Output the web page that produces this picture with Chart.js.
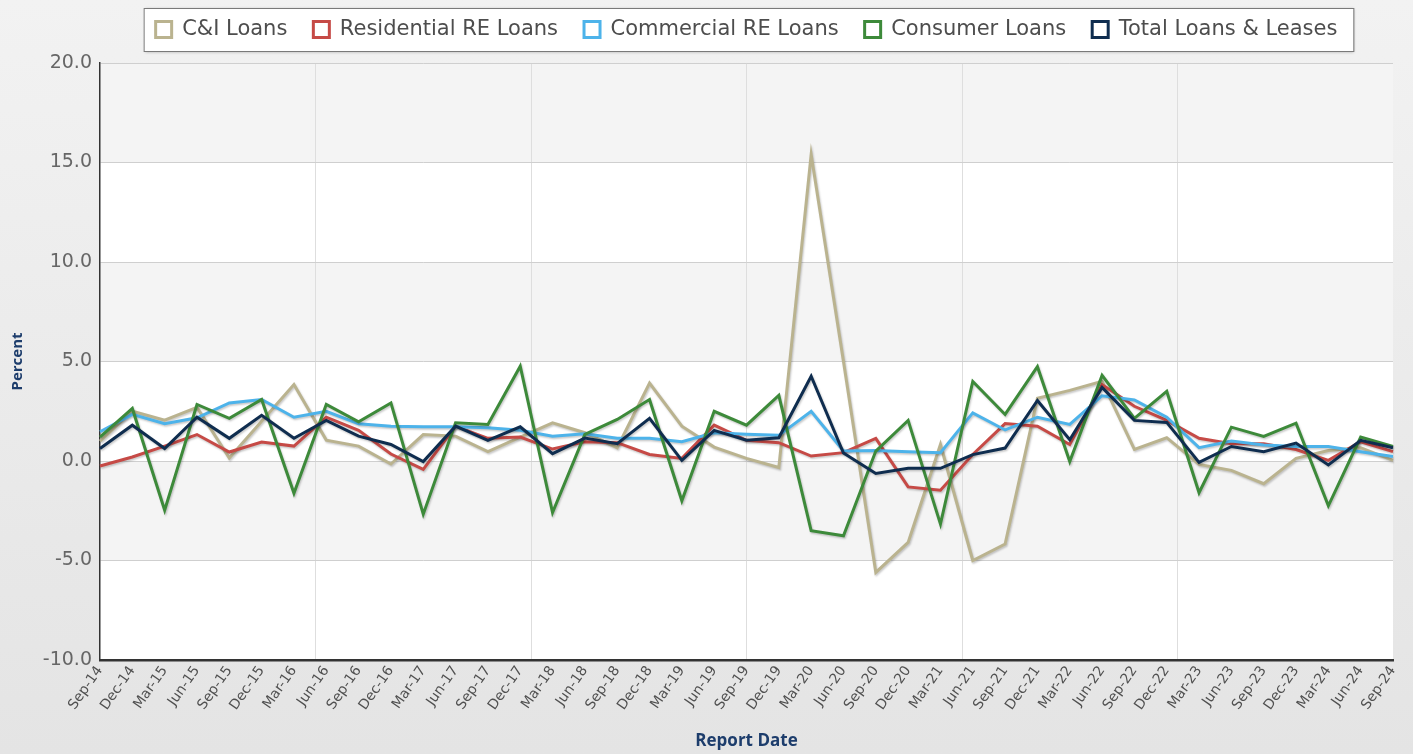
<!DOCTYPE html>
<html>
<head>
<meta charset="utf-8">
<script src="https://cdn.jsdelivr.net/npm/chart.js@4.4.1/dist/chart.umd.min.js"></script>
<style>
  html, body { margin: 0; padding: 0; }
  body { background: linear-gradient(#f2f2f2, #e4e4e4); }
  #wrap { position: relative; width: 1413px; height: 754px; }
</style>
</head>
<body>
<div id="wrap"><canvas id="loans"></canvas></div>
<script>
const quarters = [
  "Sep-14", "Dec-14", "Mar-15", "Jun-15", "Sep-15", "Dec-15", "Mar-16", "Jun-16", "Sep-16", "Dec-16",
  "Mar-17", "Jun-17", "Sep-17", "Dec-17", "Mar-18", "Jun-18", "Sep-18", "Dec-18", "Mar-19", "Jun-19",
  "Sep-19", "Dec-19", "Mar-20", "Jun-20", "Sep-20", "Dec-20", "Mar-21", "Jun-21", "Sep-21", "Dec-21",
  "Mar-22", "Jun-22", "Sep-22", "Dec-22", "Mar-23", "Jun-23", "Sep-23", "Dec-23", "Mar-24", "Jun-24",
  "Sep-24"
];

const ciLoans = [1.0, 2.5, 2.05, 2.7, 0.15, 2.0, 3.84, 1.05, 0.75, -0.15, 1.33, 1.25, 0.47, 1.2, 1.92, 1.42, 0.67, 3.92, 1.75, 0.7, 0.13, -0.33, 15.4, 5.0, -5.6, -4.09, 0.83, -5.0, -4.17, 3.15, 3.55, 4.0, 0.58, 1.17, -0.17, -0.47, -1.14, 0.13, 0.53, 0.67, 0.03];
const residentialLoans = [-0.25, 0.2, 0.75, 1.33, 0.45, 0.95, 0.75, 2.2, 1.54, 0.35, -0.42, 1.75, 1.14, 1.2, 0.6, 0.97, 0.92, 0.33, 0.13, 1.8, 1.04, 0.92, 0.25, 0.42, 1.14, -1.3, -1.47, 0.33, 1.88, 1.75, 0.83, 3.84, 2.75, 2.04, 1.14, 0.87, 0.87, 0.58, 0.03, 0.97, 0.47];
const commercialLoans = [1.47, 2.34, 1.87, 2.17, 2.92, 3.09, 2.2, 2.5, 1.87, 1.75, 1.72, 1.72, 1.67, 1.55, 1.25, 1.37, 1.14, 1.14, 0.97, 1.42, 1.34, 1.29, 2.5, 0.5, 0.53, 0.47, 0.42, 2.42, 1.56, 2.2, 1.84, 3.28, 3.07, 2.2, 0.67, 1.0, 0.8, 0.73, 0.73, 0.47, 0.23];
const consumerLoans = [1.2, 2.64, -2.47, 2.84, 2.14, 3.09, -1.62, 2.84, 1.97, 2.92, -2.67, 1.92, 1.84, 4.76, -2.59, 1.34, 2.09, 3.09, -2.0, 2.5, 1.8, 3.3, -3.5, -3.76, 0.5, 2.04, -3.17, 4.0, 2.34, 4.74, -0.03, 4.3, 2.14, 3.5, -1.59, 1.7, 1.24, 1.9, -2.25, 1.2, 0.73];
const totalLoans = [0.63, 1.8, 0.63, 2.2, 1.14, 2.3, 1.14, 2.04, 1.25, 0.83, -0.03, 1.75, 1.04, 1.72, 0.37, 1.15, 0.87, 2.14, 0.03, 1.54, 1.04, 1.17, 4.26, 0.4, -0.63, -0.37, -0.37, 0.32, 0.65, 3.04, 1.07, 3.7, 2.04, 1.94, -0.07, 0.73, 0.47, 0.9, -0.2, 1.04, 0.67];

const seriesNames = ["C&I Loans", "Residential RE Loans", "Commercial RE Loans", "Consumer Loans", "Total Loans & Leases"];
const seriesColors = ["#bab38f", "#c64a46", "#4db3ea", "#3d8a3a", "#0f2d4f"];
const seriesValues = [ciLoans, residentialLoans, commercialLoans, consumerLoans, totalLoans];

const FONT = "'DejaVu Sans', Verdana, sans-serif";
const TITLE_COLOR = "#1d3d6c";

// grey / white horizontal bands behind the grid
const bandPlugin = {
  id: "bands",
  beforeDraw(chart) {
    const { ctx, chartArea } = chart;
    const y = chart.scales.y;
    const bands = [[15, 20], [5, 10], [-5, 0]];
    ctx.save();
    ctx.fillStyle = "#ffffff";
    ctx.fillRect(chartArea.left, chartArea.top, chartArea.width, chartArea.height);
    ctx.fillStyle = "#f4f4f4";
    bands.forEach(([lo, hi]) => {
      const top = y.getPixelForValue(hi);
      const bottom = y.getPixelForValue(lo);
      ctx.fillRect(chartArea.left, top, chartArea.width, bottom - top);
    });
    ctx.restore();
  },
};

// legend sits centred over the plot and gets a framed box
const legendBoxPlugin = {
  id: "legendBox",
  beforeInit(chart) {
    const fit = chart.legend.fit;
    chart.legend.fit = function () {
      fit.call(this);
      this.height -= 3;
    };
  },
  afterLayout(chart) {
    const lg = chart.legend;
    const area = chart.chartArea;
    const shift = (area.left + area.right) / 2 - (lg.left + lg.right) / 2;
    lg.left += shift;
    lg.right += shift;
    lg.top -= 16;
    lg.bottom -= 16;
  },
  beforeDraw(chart) {
    const boxes = chart.legend.legendHitBoxes;
    if (!boxes || !boxes.length) {
      return;
    }
    const first = boxes[0];
    const last = boxes[boxes.length - 1];
    const left = first.left - 12;
    const right = last.left + last.width + 16;
    const top = first.top - 11;
    const bottom = first.top + first.height + 11;
    const ctx = chart.ctx;
    ctx.save();
    ctx.shadowColor = "rgba(0,0,0,0.3)";
    ctx.shadowOffsetX = 1;
    ctx.shadowOffsetY = 1;
    ctx.shadowBlur = 3;
    ctx.fillStyle = "#ffffff";
    ctx.fillRect(left, top, right - left, bottom - top);
    ctx.shadowColor = "transparent";
    ctx.strokeStyle = "#7a7a7a";
    ctx.lineWidth = 1;
    ctx.strokeRect(left + 0.5, top + 0.5, right - left, bottom - top);
    ctx.restore();
  },
};

// soft drop shadow under every line
const lineShadowPlugin = {
  id: "lineShadow",
  beforeDatasetDraw(chart) {
    const ctx = chart.ctx;
    ctx.save();
    ctx.shadowColor = "rgba(0,0,0,0.22)";
    ctx.shadowOffsetX = 1;
    ctx.shadowOffsetY = 1.5;
    ctx.shadowBlur = 2;
  },
  afterDatasetDraw(chart) {
    chart.ctx.restore();
  },
};

const datasets = seriesNames.map((name, i) => ({
  label: name,
  data: seriesValues[i],
  borderColor: seriesColors[i],
  backgroundColor: "#ffffff",
  borderWidth: 3,
  pointRadius: 0,
  tension: 0,
  order: seriesNames.length - i,
}));

new Chart(document.getElementById("loans"), {
  type: "line",
  data: { labels: quarters, datasets: datasets },
  plugins: [bandPlugin, legendBoxPlugin, lineShadowPlugin],
  options: {
    responsive: true,
    maintainAspectRatio: false,
    animation: false,
    layout: { padding: { top: 9, right: 20, left: 0, bottom: 0 } },
    plugins: {
      legend: {
        position: "top",
        labels: {
          boxWidth: 16,
          boxHeight: 16,
          padding: 26,
          color: "#4d4d4d",
          font: { size: 21, family: FONT },
          sort: (a, b) => a.datasetIndex - b.datasetIndex,
        },
      },
      tooltip: { enabled: false },
    },
    scales: {
      x: {
        type: "category",
        afterFit: (scale) => { scale.height = 94; },
        ticks: {
          autoSkip: false,
          maxRotation: 55,
          minRotation: 55,
          padding: 3,
          color: "#505050",
          font: { size: 14, family: FONT },
        },
        grid: { display: false, drawTicks: false },
        border: { display: true, color: "#333333", width: 2.5 },
        title: {
          display: true,
          text: "Report Date",
          color: TITLE_COLOR,
          font: { size: 17, weight: "bold", family: "'Open Sans', 'DejaVu Sans', sans-serif" },
          padding: { top: 0, bottom: 3 },
        },
      },
      xg: {
        type: "linear",
        position: "top",
        min: 0,
        max: 6,
        afterFit: (scale) => { scale.height = 0; },
        ticks: { display: false, stepSize: 1 },
        grid: {
          drawTicks: false,
          color: (c) => (c.tick && c.tick.value > 0 && c.tick.value < 6 ? "#dedede" : "transparent"),
        },
        border: { display: false },
      },
      y: {
        min: -10,
        max: 20,
        afterFit: (scale) => { scale.width = 100; },
        ticks: {
          stepSize: 5,
          padding: 8,
          color: "#666666",
          font: { size: 19, family: FONT },
          callback: (v) => Number(v).toFixed(1),
        },
        grid: { color: "#cfcfcf", drawTicks: false },
        border: { display: true, color: "#333333", width: 1.5 },
        title: {
          display: true,
          text: "Percent",
          color: TITLE_COLOR,
          font: { size: 15, weight: "bold", family: "'Open Sans', 'DejaVu Sans', sans-serif" },
          padding: { top: 9, bottom: 0 },
        },
      },
    },
  },
});
</script>
</body>
</html>
